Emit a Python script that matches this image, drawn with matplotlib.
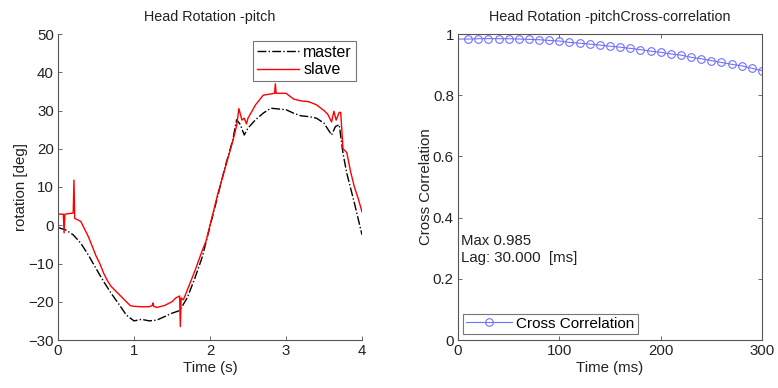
import matplotlib
matplotlib.use("Agg")
import matplotlib.pyplot as plt
import numpy as np

plt.rcParams["font.family"] = ["Liberation Sans", "DejaVu Sans"]

# head pitch rotation (deg)
master_t = [0.0, 0.1, 0.2, 0.3, 0.4, 0.5, 0.6, 0.7, 0.8, 0.9, 1.0, 1.1, 1.2, 1.3,
            1.4, 1.5, 1.6, 1.7, 1.8, 1.9, 2.0, 2.1, 2.2, 2.3, 2.35, 2.4, 2.45, 2.5,
            2.6, 2.7, 2.8, 2.9, 3.0, 3.1, 3.2, 3.3, 3.4, 3.5, 3.6, 3.65, 3.7, 3.75,
            3.8, 3.9, 4.0]
master_y = [-0.6, -1.2, -2.5, -4.7, -7.8, -11.3, -14.7, -17.8, -20.6, -23.5, -25.0,
            -24.6, -25.0, -24.8, -23.9, -23.0, -22.3, -19.0, -13.9, -8.2, -0.3, 7.5,
            15.4, 22.3, 27.6, 26.3, 23.6, 25.4, 27.6, 29.3, 30.6, 30.4, 30.2, 29.3,
            28.6, 28.4, 28.0, 26.7, 23.6, 25.8, 26.3, 18.8, 13.6, 5.8, -2.5]

slave_t = [0.0, 0.07, 0.08, 0.09, 0.2, 0.21, 0.22, 0.3, 0.35, 0.4, 0.45, 0.5, 0.55,
           0.6, 0.65, 0.7, 0.75, 0.8, 0.85, 0.9, 0.95, 1.0, 1.1, 1.2, 1.24, 1.25,
           1.26, 1.3, 1.4, 1.5, 1.55, 1.6, 1.61, 1.62, 1.65, 1.7, 1.8, 1.9, 1.95,
           2.0, 2.1, 2.2, 2.3, 2.35, 2.38, 2.42, 2.45, 2.48, 2.5, 2.6, 2.7, 2.85,
           2.86, 2.87, 3.0, 3.1, 3.2, 3.3, 3.4, 3.5, 3.55, 3.6, 3.63, 3.66, 3.7,
           3.72, 3.75, 3.8, 3.85, 3.9, 3.95, 4.0]
slave_y = [2.9, 2.9, -2.0, 2.9, 3.2, 11.8, 1.8, 1.0, -1.0, -3.0, -5.5, -8.0, -10.0,
           -12.5, -14.5, -16.0, -17.0, -18.0, -19.0, -20.0, -21.0, -21.2, -21.3,
           -21.3, -21.0, -20.3, -21.2, -21.5, -21.0, -20.0, -19.0, -18.5, -26.5,
           -19.0, -19.5, -17.0, -12.0, -6.5, -4.0, 0.0, 8.0, 15.0, 22.0, 26.0, 30.5,
           27.5, 28.0, 26.5, 28.0, 31.5, 34.0, 34.5, 37.0, 34.5, 34.5, 33.0, 32.5,
           32.3, 31.5, 30.0, 29.0, 27.0, 29.8, 27.5, 29.5, 29.5, 20.0, 19.0, 14.0,
           10.0, 7.0, 3.5]

# cross-correlation vs lag (ms)
lag_ms = [0, 10, 20, 30, 40, 50, 60, 70, 80, 90, 100, 110, 120, 130, 140, 150, 160,
          170, 180, 190, 200, 210, 220, 230, 240, 250, 260, 270, 280, 290, 300]
xcorr = [0.9835, 0.9835, 0.9846, 0.9850, 0.9846, 0.9846, 0.9835, 0.9824, 0.9813,
         0.979, 0.977, 0.9725, 0.970, 0.967, 0.964, 0.960, 0.957, 0.953, 0.949,
         0.944, 0.940, 0.935, 0.931, 0.924, 0.919, 0.913, 0.907, 0.901, 0.896,
         0.888, 0.880]

fig = plt.figure(figsize=(7.78, 3.88), dpi=100)
W, H = 778, 388
ax1 = fig.add_axes([58 / W, 1 - 340 / H, 304 / W, 306 / H])
ax2 = fig.add_axes([458 / W, 1 - 340 / H, 304 / W, 306 / H])

fs = 10.8
tfs = 10.4
txt = "#222222"
edge = "#555555"

ax1.plot(master_t, master_y, color="black", linestyle="-.", linewidth=1.0, label="master")
ax1.plot(slave_t, slave_y, color="red", linewidth=1.0, label="slave")
ax1.set_xlim(0, 4)
ax1.set_ylim(-30, 50)
ax1.set_xticks([0, 1, 2, 3, 4])
ax1.set_yticks(range(-30, 51, 10))
ax1.set_title("Head Rotation -pitch", fontsize=tfs, pad=9, color=txt)
ax1.set_xlabel("Time (s)", fontsize=fs, labelpad=2, color=txt)
ax1.set_ylabel("rotation [deg]", fontsize=fs, labelpad=0, color=txt)
ax1.spines["top"].set_visible(False)
ax1.spines["right"].set_visible(False)
leg1 = ax1.legend(loc="upper right", bbox_to_anchor=(0.98, 0.978), fontsize=fs + 0.6,
                  fancybox=False, handlelength=2.6, borderpad=0.25, labelspacing=0.15,
                  handletextpad=0.3, borderaxespad=0)
leg1.get_frame().set_edgecolor(edge)
leg1.get_frame().set_linewidth(0.8)

ax2.plot(lag_ms, xcorr, color="#7070ff", linewidth=0.8, marker="o", markersize=5.5,
         markerfacecolor="none", markeredgecolor="#7070ff", markeredgewidth=0.8,
         markevery=slice(1, None), label="Cross Correlation")
ax2.set_xlim(0, 300)
ax2.set_ylim(0, 1)
ax2.set_xticks([0, 100, 200, 300])
ax2.set_yticks([0, 0.2, 0.4, 0.6, 0.8, 1])
ax2.set_yticklabels(["0", "0.2", "0.4", "0.6", "0.8", "1"])
ax2.set_title("Head Rotation -pitchCross-correlation", fontsize=tfs, pad=9, color=txt)
ax2.set_xlabel("Time (ms)", fontsize=fs, labelpad=2, color=txt)
ax2.set_ylabel("Cross Correlation", fontsize=fs, labelpad=0, color=txt)
ax2.text(3, 0.295, "Max 0.985\nLag: 30.000  [ms]", fontsize=fs, va="center", ha="left",
         linespacing=1.25, color=txt)
leg2 = ax2.legend(loc="lower left", bbox_to_anchor=(0.016, 0.02), fontsize=fs + 0.2,
                  fancybox=False, handlelength=3.0, borderpad=0.2, handletextpad=0.3,
                  borderaxespad=0)
leg2.get_frame().set_edgecolor(edge)
leg2.get_frame().set_linewidth(0.8)

for ax in (ax1, ax2):
    ax.tick_params(direction="in", length=3, width=0.6, color=edge, labelsize=fs,
                   labelcolor=txt, pad=3, top=(ax is ax2), right=(ax is ax2))
    for s in ax.spines.values():
        s.set_color(edge)
        s.set_linewidth(0.8)

fig.savefig("out.png", dpi=100, facecolor="white")
